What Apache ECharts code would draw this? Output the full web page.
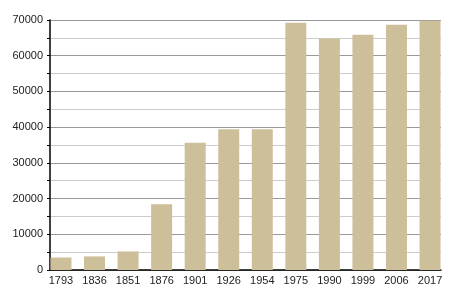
<!DOCTYPE html>
<html><head><meta charset="utf-8">
<script src="https://cdn.jsdelivr.net/npm/echarts@6/dist/echarts.min.js"></script>
<style>html,body{margin:0;padding:0;background:#fff}#c{width:450px;height:300px}</style>
</head><body><div id="c"></div>
<script>
const categories = ['1793','1836','1851','1876','1901','1926','1954','1975','1990','1999','2006','2017'];
const population = [3500,3800,5200,18400,35600,39400,39400,69200,64800,65900,68700,69800];
const yTicks = [0,10000,20000,30000,40000,50000,60000,70000];

const chart = echarts.init(document.getElementById('c'), null, {renderer:'canvas'});
const font = 'Liberation Sans, Arial, Helvetica, sans-serif';
chart.setOption({
  animation:false,
  grid:[
    {left:44.2, right:3.2, top:20, bottom:30},
    {left:50, right:9, top:20, bottom:30}
  ],
  xAxis:[
    {type:'category', gridIndex:0, data:categories, boundaryGap:true,
     axisLine:{show:false}, axisTick:{show:false}, splitLine:{show:false},
     axisLabel:{color:'#222', fontSize:11, fontFamily:font, margin:5, interval:0}},
    {type:'value', gridIndex:1, min:0, max:1,
     axisLine:{show:true, lineStyle:{color:'#000', width:1.5}}, axisTick:{show:false},
     axisLabel:{show:false}, splitLine:{show:false}}
  ],
  yAxis:[
    {type:'value', gridIndex:0, min:0, max:70000, show:false, splitLine:{show:false}},
    {type:'value', gridIndex:1, min:0, max:70000, interval:5000,
     axisLine:{show:true, lineStyle:{color:'#000', width:1.5}},
     axisTick:{show:true, length:3, lineStyle:{color:'#000'}},
     splitLine:{show:true, lineStyle:{color:['#999','#ccc'], width:1}},
     axisLabel:{color:'#222', fontSize:11, fontFamily:font, margin:7,
       formatter:v => yTicks.includes(v) ? String(v) : ''}}
  ],
  series:[{
    type:'bar', xAxisIndex:0, yAxisIndex:0, data:population,
    barWidth:21, itemStyle:{color:'#cdbf9a'}
  }]
});
</script></body></html>
